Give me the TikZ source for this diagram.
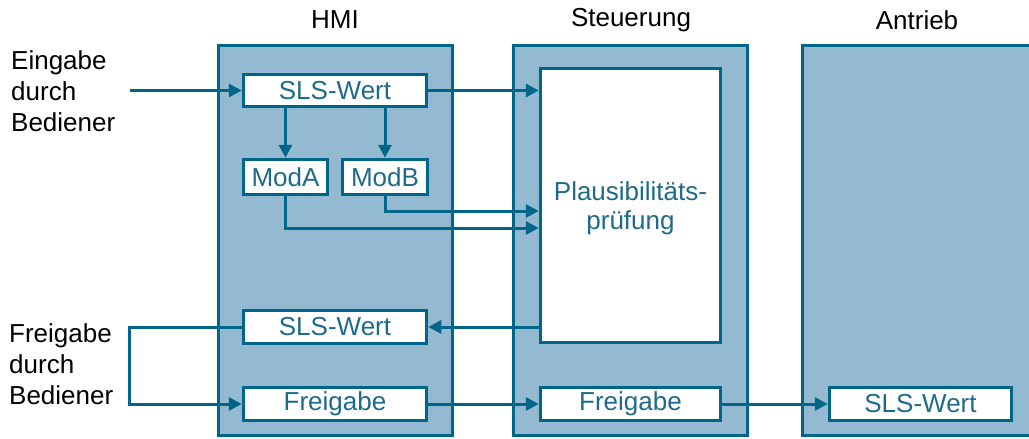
\documentclass[tikz,border=0pt]{standalone}
\usepackage{fontspec}
\setmainfont{Liberation Sans}
\usetikzlibrary{arrows.meta}
\definecolor{bfill}{HTML}{93BAD1}
\definecolor{bline}{HTML}{006689}
\definecolor{btext}{HTML}{1E6A8B}
\begin{document}
\begin{tikzpicture}[x=1pt,y=-1pt,
  outerbox/.style={draw=bline,fill=bfill,line width=3pt,minimum width=234pt,minimum height=390pt,inner sep=0pt},
  innerbox/.style={draw=bline,fill=white,line width=3.5pt,text=btext,inner sep=0pt,font=\fontsize{26}{29}\selectfont},
  title/.style={font=\fontsize{26}{29}\selectfont,text=black},
  lbl/.style={font=\fontsize{26}{31}\selectfont,align=left,anchor=west,inner sep=0pt},
  conn/.style={draw=bline,line width=3pt},
  arr/.style={conn,-{Triangle[length=13pt,width=13pt]}}]
\useasboundingbox (0,0) rectangle (1029,439);
% outer boxes
\node[outerbox] (hmi) at (335.5,240.5) {};
\node[outerbox] (steu) at (630.5,240.5) {};
\node[outerbox,minimum width=240pt] (antr) at (922,240.5) {};
% titles
\node[title] (thmi) at (335,20) {HMI};
\node[title] (tsteu) at (631,20) {Steuerung};
\node[title] (tantr) at (917,20) {Antrieb};
% left labels
\node[lbl] (ein) at (11,91) {Eingabe\\durch\\Bediener};
\node[lbl] (frg) at (9,364) {Freigabe\\durch\\Bediener};
% inner boxes
\node[innerbox,minimum width=183pt,minimum height=32pt] (sls1) at (335,90.5) {SLS-Wert};
\node[innerbox,minimum width=84pt,minimum height=35pt] (moda) at (285.5,177) {ModA};
\node[innerbox,minimum width=85pt,minimum height=35pt] (modb) at (385,177) {ModB};
\node[innerbox,minimum width=180pt,minimum height=274pt] (plaus) at (630.5,205.5) {};
\node[align=center,text=btext,inner sep=0pt,font=\fontsize{26}{29}\selectfont] (ptext) at (630.5,208) {Plausibilitäts-\\prüfung};
\node[innerbox,minimum width=183pt,minimum height=33pt] (sls2) at (335,327) {SLS-Wert};
\node[innerbox,minimum width=183pt,minimum height=33pt] (frei1) at (335,404) {Freigabe};
\node[innerbox,minimum width=180pt,minimum height=33pt] (frei2) at (630.5,404) {Freigabe};
\node[innerbox,minimum width=182pt,minimum height=33pt] (slsa) at (920.5,404) {SLS-Wert};
% helper coordinates
\coordinate (in1) at (130,90.5);
\coordinate (turn) at (129,327);
\coordinate (ya) at (0,228);
\coordinate (yb) at (0,211);
% connectors
\draw[arr] (in1) -- (sls1.west);
\draw[arr] (sls1.east) -- (sls1.east -| plaus.west);
\draw[arr] (sls1.south -| moda) -- (moda.north);
\draw[arr] (sls1.south -| modb) -- (modb.north);
\draw[arr] (modb.south) |- (yb -| plaus.west);
\draw[arr] (moda.south) |- (ya -| plaus.west);
\draw[arr] (plaus.west |- sls2) -- (sls2.east);
\draw[arr] (sls2.west) -- (turn) |- (frei1.west);
\draw[arr] (frei1.east) -- (frei2.west);
\draw[arr] (frei2.east) -- (slsa.west);
\end{tikzpicture}
\end{document}
